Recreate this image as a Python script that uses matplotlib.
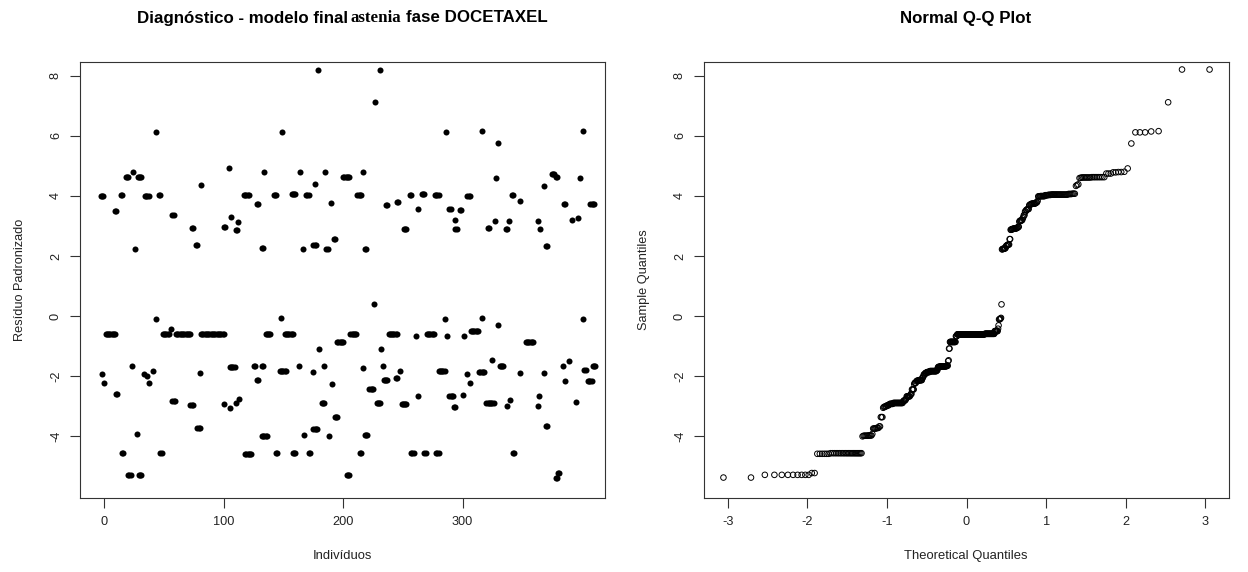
import numpy as np
import matplotlib
matplotlib.use("Agg")
import matplotlib.pyplot as plt
from statistics import NormalDist

# --- DADOS (sequências de indivíduos com o mesmo resíduo) ---
ind_ini = [-3, -2, 0, 1, 9, 10, 14, 15, 18, 20, 23, 24, 26, 27, 28, 29, 34, 33, 36, 37,
           41, 43, 43, 46, 47, 49, 56, 57, 57, 60, 72, 73, 77, 78, 80, 81, 81,
           100, 100, 104, 105, 105, 106, 110, 110, 112, 113, 117, 118, 125, 128, 128, 132, 132,
           132, 134, 135, 142, 144, 147, 148, 149, 151, 157, 158,
           163, 164, 166, 167, 169, 171, 175, 175, 175, 176, 179, 180, 182, 184, 185, 186, 188,
           190, 191, 192, 193, 195, 200, 203, 206, 212, 214, 217, 217, 218, 218,
           222, 226, 227, 228, 231, 232, 233, 234, 236, 238, 244, 245, 248, 249, 251, 256, 257,
           261, 263, 263, 266, 268, 270, 277, 278, 280,
           285, 286, 287, 289, 289, 294, 293, 294, 298, 300, 301, 304, 304, 306, 307, 314, 316,
           316, 321, 320, 325, 327, 328, 330, 330, 331, 336, 337, 339, 341, 340, 342,
           348, 348, 353, 363, 363, 364, 365, 368, 368, 370, 370, 375, 378, 378, 380, 385, 384, 386,
           389, 392, 395, 397, 398, 401, 401, 402, 405, 407, 409]
ind_fim = [-1, -2, 0, 9, 10, 11, 15, 16, 20, 22, 23, 24, 26, 27, 31, 31, 37, 33, 36, 37,
           41, 43, 43, 47, 48, 54, 56, 58, 59, 72, 74, 74, 78, 80, 80, 81, 100,
           101, 100, 104, 109, 105, 106, 111, 110, 112, 113, 121, 123, 126, 129, 129, 133, 133,
           136, 134, 139, 144, 145, 152, 148, 149, 158, 160, 160,
           163, 164, 166, 167, 171, 172, 177, 175, 178, 176, 179, 180, 184, 184, 185, 187, 188,
           190, 191, 193, 195, 200, 205, 205, 211, 215, 215, 217, 217, 219, 220,
           225, 226, 227, 231, 231, 232, 233, 237, 237, 245, 245, 246, 248, 253, 253, 257, 259,
           261, 263, 263, 268, 269, 276, 280, 280, 285,
           285, 286, 287, 290, 292, 295, 294, 294, 299, 300, 301, 306, 304, 306, 313, 318, 316,
           316, 322, 326, 325, 327, 328, 330, 330, 334, 337, 337, 339, 342, 340, 343,
           348, 348, 359, 363, 363, 364, 365, 368, 368, 371, 371, 377, 379, 379, 381, 386, 384, 386,
           389, 392, 395, 397, 398, 401, 401, 403, 408, 410, 411]
residuo_seq = [3.99, -1.94, -2.22, -0.61, 3.48, -2.59, 4.03, -4.56, 4.61, -5.28, -1.67, 4.80, 2.22, -3.92, 4.61, -5.28, 3.99, -1.94, -2.00, -2.22,
               -1.83, 6.11, -0.11, 4.03, -4.56, -0.61, -0.42, 3.36, -2.81, -0.61, -2.97, 2.94, 2.36, -3.72, -1.89, 4.36, -0.61,
               2.97, -2.94, 4.91, -1.69, -3.05, 3.29, 2.87, -2.89, 3.14, -2.75, 4.04, -4.58, -1.67, 3.72, -2.13, 2.26, -1.67,
               -3.98, 4.78, -0.61, 4.04, -4.56, -1.83, -0.06, 6.11, -0.61, 4.06, -4.56,
               -1.67, 4.78, 2.22, -3.97, 4.04, -4.56, 2.38, -1.87, -3.74, 4.38, 8.20, -1.08, -2.89, -1.67, 4.79, 2.24, -4.00,
               3.76, -2.26, 2.56, -3.36, -0.86, 4.62, -5.28, -0.59, 4.04, -4.56, 4.79, -1.72, 2.24, -3.97,
               -2.44, 0.39, 7.11, -2.89, 8.20, -1.08, -1.67, -2.13, 3.69, -0.59, -2.05, 3.78, -1.83, -2.92, 2.91, 4.04, -4.56,
               -0.67, 3.56, -2.67, 4.07, -4.56, -0.59, 4.02, -4.56, -1.83,
               -0.11, 6.11, -0.67, 3.56, -2.67, 2.91, -3.02, 3.19, 3.53, -2.63, -0.67, 3.98, -1.94, -2.22, -0.50, -1.86, 6.14,
               -0.08, 2.92, -2.89, -1.47, 3.17, 4.59, 5.74, -0.31, -1.67, 2.89, -3.00, 3.17, 4.04, -2.78, -4.56,
               3.83, -1.89, -0.86, 3.17, -3.00, -2.67, 2.89, 4.33, -1.89, 2.33, -3.67, 4.74, 4.62, -5.37, -5.22, 3.74, -1.67, -2.17,
               -1.50, 3.19, -2.85, 3.25, 4.60, 6.15, -0.10, -1.80, -2.15, 3.74, -1.65]

x_ticks = [0, 100, 200, 300]
y_ticks = [-4, -2, 0, 2, 4, 6, 8]
qq_ticks = [-3, -2, -1, 0, 1, 2, 3]

individuo = np.concatenate([np.arange(a, b + 1) for a, b in zip(ind_ini, ind_fim)])
residuo = np.concatenate([np.full(b - a + 1, r) for a, b, r in zip(ind_ini, ind_fim, residuo_seq)])

# quantis teóricos como no qqnorm do R
n = len(residuo)
prob = (np.arange(1, n + 1) - 0.5) / n
teorico = np.array([NormalDist().inv_cdf(q) for q in prob])
amostra = np.sort(residuo)

# --- FIGURA ---
plt.rcParams['font.family'] = ['Liberation Sans', 'DejaVu Sans']
plt.rcParams['axes.unicode_minus'] = False  # hífen como no R

W, H = 1248, 572
fig = plt.figure(figsize=(W / 100, H / 100), dpi=100)


def caixa(l, r, t, b):
    return [l / W, 1 - b / H, (r - l) / W, (b - t) / H]


ax1 = fig.add_axes(caixa(80, 605, 62, 498))
ax2 = fig.add_axes(caixa(704, 1229, 62, 498))

ax1.scatter(individuo, residuo, s=19, c='black', linewidths=0)
ax1.set_xlim(-20.4, 419.3)
ax1.set_xticks(x_ticks)

ax2.scatter(teorico, amostra, s=16, facecolors='none', edgecolors='black', linewidths=0.7)
lo, hi = teorico.min(), teorico.max()
ax2.set_xlim(lo - 0.04 * (hi - lo), hi + 0.04 * (hi - lo))
ax2.set_xticks(qq_ticks)

for ax in (ax1, ax2):
    ax.set_ylim(-6.05, 8.45)
    ax.set_yticks(y_ticks)
    for s in ax.spines.values():
        s.set_linewidth(0.8)
        s.set_color('#333333')
    ax.tick_params(direction='out', length=7, width=0.8, color='#333333',
                   labelsize=9.2, labelcolor='#222222', pad=6)
    ax.tick_params(axis='y', labelrotation=90)
    for lab in ax.get_yticklabels():
        lab.set_va('center')

# rótulos dos eixos
fig.text(342 / W, 1 - 556 / H, 'Indivíduos', ha='center', va='center', fontsize=9.4, color='#222222')
fig.text(20 / W, 1 - 280 / H, 'Resíduo Padronizado', ha='center', va='center', rotation=90,
         fontsize=9.2, color='#222222')
fig.text(966 / W, 1 - 556 / H, 'Theoretical Quantiles', ha='center', va='center', fontsize=9.4, color='#222222')
fig.text(644 / W, 1 - 280 / H, 'Sample Quantiles', ha='center', va='center', rotation=90,
         fontsize=9.2, color='#222222')

# título com fonte misturada (sans + serif)
renderer = fig.canvas.get_renderer()
partes = [('Diagnóstico - modelo final', 'Liberation Sans', 3),
          ('astenia', 'Liberation Serif', 4),
          ('fase DOCETAXEL', 'Liberation Sans', 0)]
textos = []
for s, fam, gap in partes:
    t = fig.text(0, 1 - 18 / H, s, ha='left', va='center', fontsize=12.2, fontweight='bold', family=fam)
    textos.append((t, t.get_window_extent(renderer).width, gap))
total = sum(w + g for _, w, g in textos)
x = 342 - total / 2
for t, w, g in textos:
    t.set_x(x / W)
    x += w + g

fig.text(966 / W, 1 - 18 / H, 'Normal Q-Q Plot', ha='center', va='center', fontsize=12.2, fontweight='bold')

fig.savefig('out.png', dpi=100)
